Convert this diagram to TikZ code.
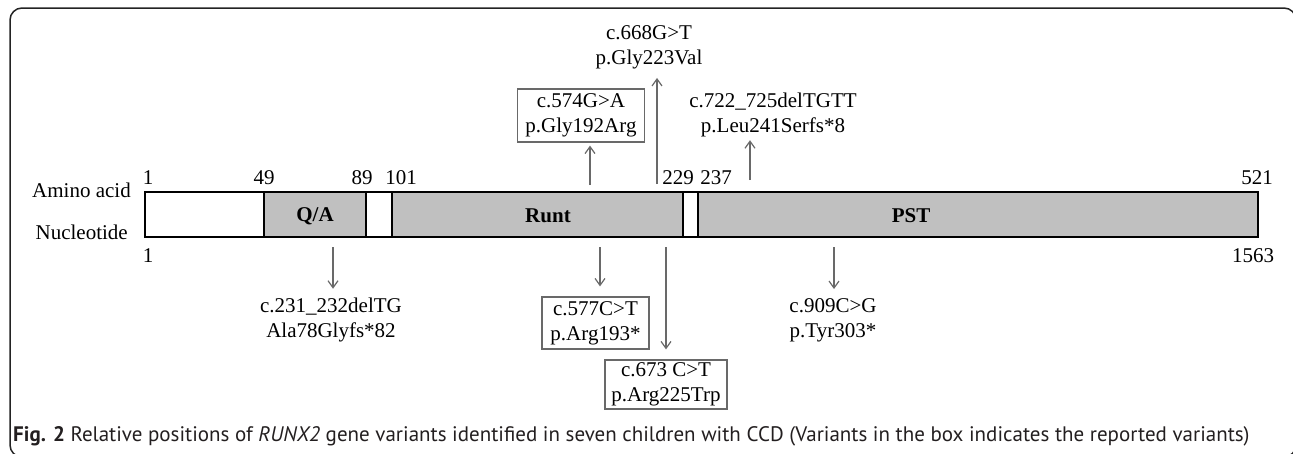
\documentclass[tikz,border=0pt]{standalone}
\usepackage{fontspec}
\setmainfont{Liberation Serif}
\newfontfamily\capfont{PT Sans}
\usetikzlibrary{arrows.meta}
\definecolor{domgray}{RGB}{192,192,192}
\definecolor{arrgray}{RGB}{105,105,105}
\definecolor{framec}{RGB}{35,35,35}
\definecolor{capc}{RGB}{35,31,32}

\begin{document}
\begin{tikzpicture}[x=1pt,y=-1pt,
  lbl/.style={inner sep=0pt, font=\fontsize{21}{25}\selectfont, align=center},
  num/.style={inner sep=0pt, font=\fontsize{21}{25}\selectfont},
  domname/.style={inner sep=0pt, font=\fontsize{21}{25}\selectfont\bfseries},
  varbox/.style={lbl, draw=arrgray, line width=1.2pt},
  seg/.style={draw=black, line width=2.6pt},
  pointer/.style={draw=arrgray, line width=1.3pt,
    -{Straight Barb[length=7pt,width=10pt,line width=1.2pt]}},
]
\useasboundingbox (0,0) rectangle (1293,453);

% outer frame, only its top and left sides fall on the page
\begin{scope}
  \clip (0,0) rectangle (1293,453);
  \draw[framec, line width=1.5pt, rounded corners=12pt] (10,8) rectangle (1296,457);
\end{scope}

% protein bar with its domains
\draw[seg, fill=white]   (145,192) rectangle (264,237);
\draw[seg, fill=domgray] (264,192) rectangle (366,237);
\draw[seg, fill=white]   (366,192) rectangle (392,237);
\draw[seg, fill=domgray] (392,192) rectangle (683,237);
\draw[seg, fill=white]   (683,192) rectangle (698,237);
\draw[seg, fill=domgray] (698,192) rectangle (1258,237);

\node[domname] (qa)   at (315,216) {Q/A};
\node[domname] (runt) at (548,216) {Runt};
\node[domname] (pst)  at (911,216) {PST};

% row labels
\node[num, anchor=east] (aa) at (131,190) {Amino acid};
\node[num, anchor=east] (nt) at (128,232) {Nucleotide};

% amino-acid positions
\node[num] (p1)   at (148,178) {1};
\node[num] (p49)  at (264,178) {49};
\node[num] (p89)  at (362,178) {89};
\node[num] (p101) at (401,178) {101};
\node[num] (p229) at (678,178) {229};
\node[num] (p237) at (716,178) {237};
\node[num] (p521) at (1257,178) {521};

% nucleotide positions
\node[num] (n1)    at (148,256) {1};
\node[num] (n1563) at (1253,256) {1563};

% variants above the bar
\node[varbox, minimum width=127, minimum height=53] (v574) at (581,115.5) {c.574G>A\\p.Gly192Arg};
\node[lbl] (v668) at (649,47) {c.668G>T\\p.Gly223Val};
\node[lbl] (v722) at (773,115) {c.722\_725delTGTT\\p.Leu241Serfs*8};

% variants below the bar
\node[lbl] (v231) at (331,320) {c.231\_232delTG\\Ala78Glyfs*82};
\node[varbox, minimum width=107, minimum height=52] (v577) at (595.5,323) {c.577C>T\\p.Arg193*};
\node[varbox, minimum width=122, minimum height=49] (v673) at (666,384.5) {c.673 C>T\\p.Arg225Trp};
\node[lbl] (v909) at (833,320) {c.909C>G\\p.Tyr303*};

% arrow tails at the bar
\coordinate (s574) at (590,185);
\coordinate (s668) at (657,184);
\coordinate (s722) at (750,180);
\coordinate (s231) at (333,247);
\coordinate (s577) at (600,247);
\coordinate (s673) at (666,247);
\coordinate (s909) at (834,247);

\draw[pointer, shorten >=3pt]  (s574) -- (s574 |- v574.south);
\draw[pointer, shorten >=9pt]  (s668) -- (s668 |- v668.south);
\draw[pointer, shorten >=3pt]  (s722) -- (s722 |- v722.south);
\draw[pointer, shorten >=9pt]  (s231) -- (s231 |- v231.north);
\draw[pointer, shorten >=10pt] (s577) -- (s577 |- v577.north);
\draw[pointer, shorten >=10pt] (s673) -- (v673.north);
\draw[pointer, shorten >=9pt]  (s909) -- (s909 |- v909.north);

% caption
\node[anchor=west, inner sep=0pt, text=capc, font=\capfont\fontsize{21}{24}\selectfont] (cap) at (13,436)
  {\textbf{Fig. 2} Relative positions of \textit{RUNX2} gene variants identified in seven children with CCD (Variants in the box indicates the reported variants)};
\end{tikzpicture}
\end{document}
